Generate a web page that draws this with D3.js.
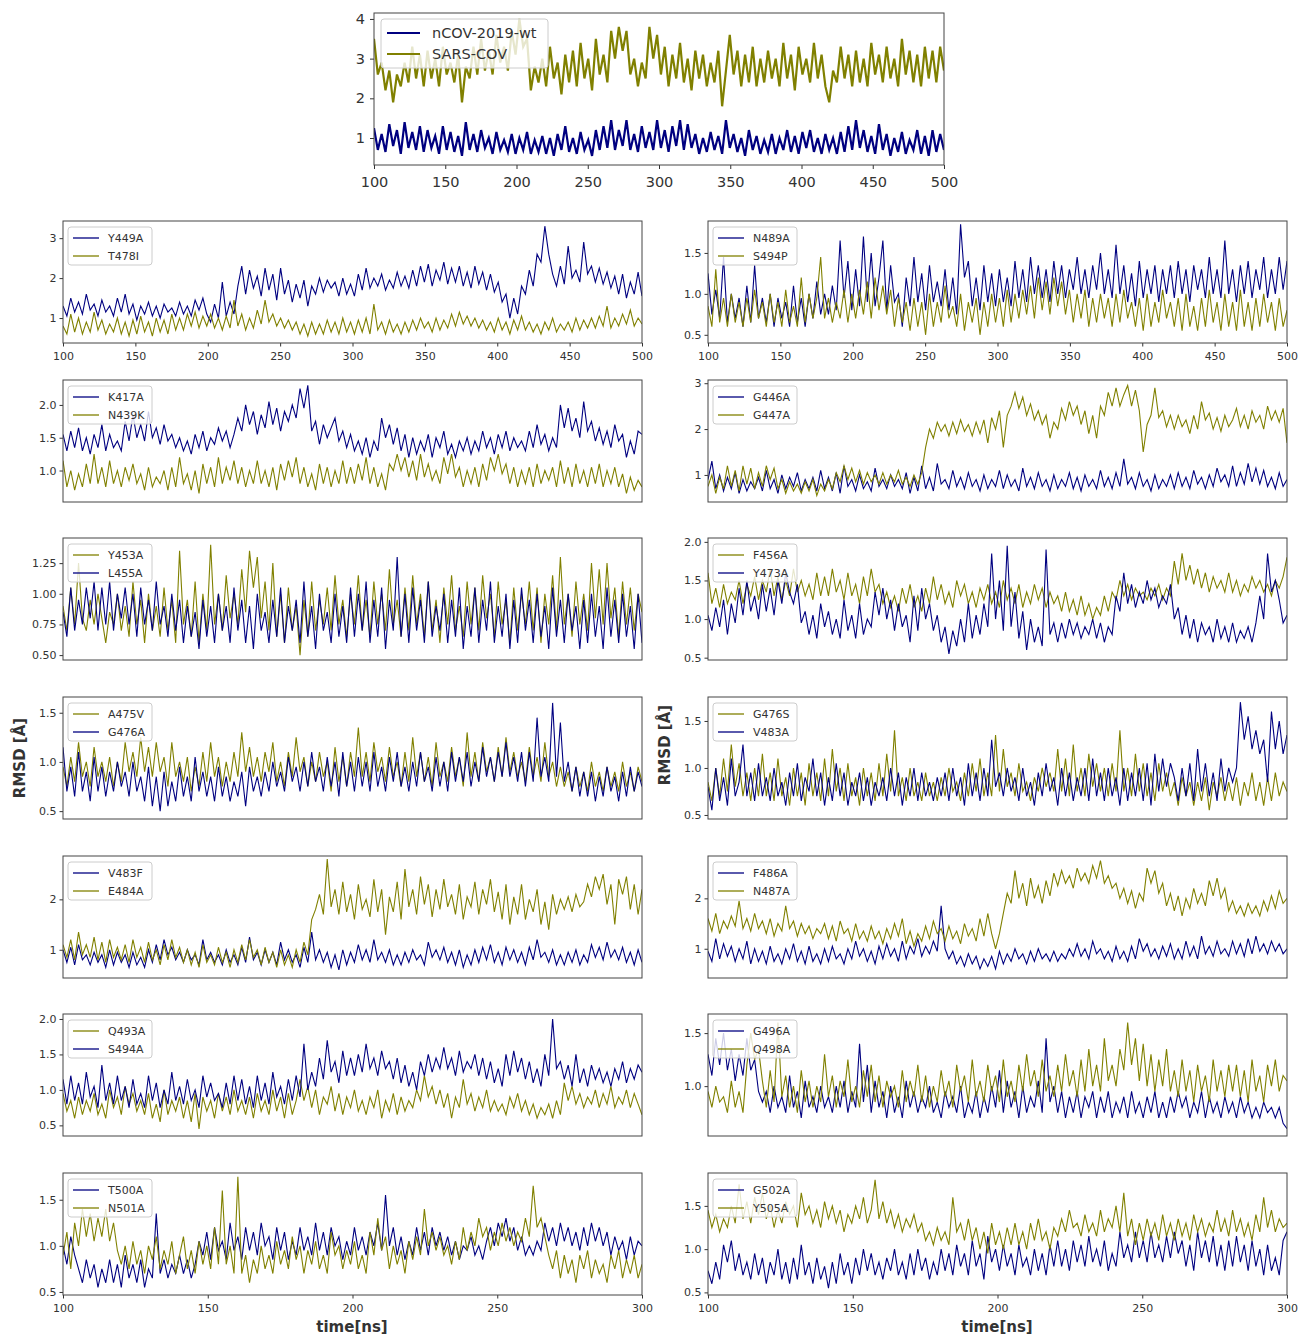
<!DOCTYPE html>
<html><head><meta charset="utf-8">
<script src="https://cdn.jsdelivr.net/npm/d3@7"></script>
<style>body{margin:0;background:#fff}svg{display:block}text{font-family:"DejaVu Sans",sans-serif;fill:#333}</style>
</head><body>
<svg id="c" width="1299" height="1337"></svg>
<script>
// ---------- data (RMSD in Å, evenly spaced over each panel's time range) ----------
const wt = [1.25,0.7,1.1,0.65,1.35,0.8,1.2,0.6,1.4,0.75,1.15,0.7,1.3,0.65,1.2,
 0.75,1.05,0.6,1.3,0.7,1.15,0.65,1.05,0.55,1.4,0.7,1.1,0.65,1.2,0.75,
 1.0,0.6,1.15,0.7,0.95,0.65,1.1,0.6,1.0,0.7,1.15,0.6,0.95,0.65,1.05,
 0.6,1.0,0.55,1.1,0.7,1.3,0.65,1.0,0.6,1.15,0.7,0.95,0.55,1.2,0.7,
 1.3,0.75,1.45,0.7,1.2,0.8,1.45,0.7,1.1,0.65,1.3,0.75,1.15,0.7,1.45,
 0.75,1.2,0.65,1.3,0.8,1.45,0.7,1.35,0.75,1.1,0.6,1.0,0.65,1.15,0.7,
 1.05,0.6,1.45,0.75,1.1,0.65,1.0,0.55,1.2,0.7,1.05,0.6,0.95,0.65,1.1,
 0.6,1.0,0.7,1.2,0.65,1.05,0.6,1.15,0.75,1.2,0.65,1.0,0.6,1.1,0.7,
 1.0,0.6,1.15,0.65,1.3,0.7,1.45,0.75,1.2,0.65,1.05,0.6,1.35,0.7,1.1,
 0.55,1.0,0.65,1.15,0.6,0.95,0.7,1.2,0.6,1.05,0.55,1.2,0.65,1.1,0.7];
const sars = [3.5,2.6,2.9,2.2,2.7,1.9,2.6,2.3,2.9,2.4,3.3,2.5,3.1,2.3,3.2,
 2.5,3.0,2.3,3.3,2.6,2.9,2.4,3.1,1.9,2.8,2.5,3.3,2.6,3.5,2.7,
 3.2,2.6,3.6,2.9,3.3,2.7,3.7,3.1,4.0,3.3,3.5,2.2,2.8,2.4,3.0,
 2.3,3.3,2.5,2.9,2.1,3.1,2.4,3.2,2.3,3.4,2.5,3.0,2.2,3.5,2.6,
 3.1,2.4,3.7,3.0,3.8,3.2,3.7,2.6,3.0,2.3,2.9,2.5,3.8,3.0,3.6,
 2.6,3.3,2.3,3.1,2.5,3.4,2.4,3.0,2.2,3.2,2.5,3.1,2.3,2.9,2.4,
 3.2,1.8,2.7,3.6,2.6,3.2,2.3,3.1,2.4,3.3,2.3,3.0,2.4,3.2,2.5,
 3.0,2.3,3.4,2.5,3.1,2.2,3.3,2.6,3.0,2.4,3.4,2.5,3.1,2.3,1.9,
 2.7,2.4,3.3,2.5,3.1,2.3,3.2,2.4,3.0,2.3,3.4,2.6,3.1,2.4,3.3,
 2.5,3.0,2.3,3.5,2.6,3.2,2.4,3.1,2.3,3.3,2.5,3.2,2.4,3.3,2.7];
const y449a = [1.3,1.05,1.5,1.15,1.4,1.1,1.6,1.2,1.35,1.05,1.45,1.15,1.3,1.05,1.5,
 1.15,1.6,1.1,1.35,0.95,1.3,1.1,1.4,1.05,1.3,1.0,1.35,1.15,1.25,1.05,
 1.4,1.1,1.3,1.05,1.45,1.2,1.5,1.1,0.9,1.35,1.0,1.9,1.05,1.4,1.1,
 1.8,2.3,1.6,2.2,1.75,2.05,1.55,2.25,1.7,2.1,1.45,2.25,1.6,1.95,1.4,
 1.85,1.5,1.95,1.3,1.8,1.6,2.0,1.65,1.95,1.75,1.9,1.55,2.0,1.6,1.85,
 1.55,2.1,1.7,2.25,1.75,2.0,1.8,2.1,1.7,1.95,1.75,2.15,1.8,2.05,1.75,
 2.2,1.8,2.3,1.9,2.35,1.8,2.2,1.95,2.4,1.85,2.25,1.9,2.3,1.8,2.15,
 1.75,2.3,1.85,2.15,1.7,2.1,1.65,1.9,1.4,1.6,1.0,1.5,1.1,1.8,1.6,
 2.2,1.8,2.6,2.4,3.3,2.6,2.1,1.8,2.3,1.85,2.8,2.0,2.2,1.9,2.9,
 2.1,2.3,1.9,2.25,1.85,2.15,1.75,2.05,1.6,2.1,1.5,1.9,1.6,2.15,1.55];
const t478i = [0.8,0.6,1.1,0.65,1.0,0.6,0.9,0.65,1.15,0.7,0.95,0.6,0.85,0.65,1.0,
 0.6,0.9,0.55,0.95,0.6,1.05,0.65,0.9,0.55,1.0,0.65,0.95,0.6,1.1,0.7,
 1.0,0.7,1.1,0.8,1.15,0.75,1.05,0.8,1.1,0.75,1.0,0.7,1.05,0.75,1.45,
 0.8,1.1,0.7,1.0,0.75,1.2,0.85,1.45,0.9,1.1,0.8,1.0,0.75,0.95,0.7,
 0.9,0.6,0.85,0.55,0.9,0.6,0.85,0.6,0.95,0.65,0.9,0.6,1.0,0.65,0.9,
 0.6,0.95,0.65,1.0,0.6,1.35,0.7,0.9,0.6,0.95,0.65,0.85,0.6,0.9,0.65,
 0.95,0.7,1.0,0.75,0.9,0.65,1.0,0.7,0.95,0.75,1.1,0.8,1.15,0.85,1.05,
 0.8,1.0,0.75,0.95,0.7,0.9,0.65,1.0,0.7,0.9,0.6,0.95,0.7,1.05,0.7,
 0.9,0.65,0.85,0.6,0.9,0.7,1.0,0.65,0.85,0.7,0.9,0.65,1.0,0.7,0.95,
 0.75,1.0,0.75,1.05,0.8,1.3,0.75,1.0,0.8,1.1,0.85,1.2,0.8,1.0,0.85];
const n489a = [1.25,0.75,1.05,0.7,1.45,0.65,1.0,0.7,0.95,0.6,1.1,0.65,1.35,0.7,0.95,
 0.65,1.0,0.6,0.95,0.7,0.9,0.6,1.1,0.65,0.95,0.6,1.0,0.7,1.15,0.75,
 1.0,0.75,1.1,0.8,1.65,0.95,1.4,0.8,1.3,0.85,1.7,0.9,1.5,0.85,1.2,
 1.65,0.8,1.35,0.9,1.0,0.6,1.2,0.85,1.45,0.9,1.25,0.8,1.35,0.9,1.15,
 0.85,1.3,0.8,1.2,0.75,1.85,1.2,1.4,0.85,1.2,0.8,1.35,0.9,1.25,0.85,
 1.3,0.9,1.2,0.85,1.4,0.95,1.3,0.9,1.45,1.0,1.35,0.95,1.3,0.9,1.4,
 1.0,1.35,0.95,1.3,1.05,1.45,1.0,1.3,0.95,1.35,1.05,1.5,1.0,1.3,0.95,
 1.6,1.0,1.35,0.9,1.25,0.85,1.4,0.95,1.3,1.0,1.35,0.9,1.3,1.0,1.35,
 0.95,1.4,1.0,1.3,0.9,1.35,1.05,1.3,0.95,1.45,1.0,1.3,0.95,1.65,1.0,
 1.3,0.9,1.35,1.0,1.4,0.95,1.3,1.05,1.45,0.95,1.3,1.0,1.45,1.05,1.4];
const s494p = [0.85,0.6,1.3,0.65,0.95,0.6,1.0,0.65,0.9,0.6,0.95,0.65,1.05,0.7,0.9,
 0.6,1.0,0.65,0.9,0.6,1.05,0.65,0.85,0.6,1.2,0.65,1.0,0.7,0.95,1.45,
 0.7,0.95,0.65,0.9,0.7,1.05,0.65,1.0,0.7,1.05,0.75,1.15,0.7,1.2,0.8,
 1.1,0.75,1.05,0.6,0.95,0.65,0.9,0.55,0.95,0.6,0.9,0.5,1.0,0.6,0.9,
 0.65,1.1,0.7,0.85,0.6,1.0,0.55,0.9,0.65,0.95,0.5,0.9,0.6,1.0,0.65,
 0.95,0.6,1.05,0.65,1.0,0.7,1.05,0.75,1.1,0.7,1.2,0.8,1.15,0.75,1.2,
 0.85,1.15,0.75,1.05,0.65,1.0,0.7,1.05,0.6,0.95,0.65,1.0,0.7,0.95,0.6,
 1.0,0.65,1.05,0.7,0.9,0.6,0.95,0.55,1.0,0.6,0.9,0.65,1.05,0.7,0.9,
 0.6,0.95,0.55,1.0,0.6,0.85,0.55,0.95,0.6,1.05,0.65,0.9,0.55,1.0,0.6,
 0.9,0.55,1.05,0.6,0.9,0.55,0.95,0.6,1.0,0.65,0.9,0.55,0.95,0.6,0.8];
const k417a = [1.55,1.3,1.6,1.35,1.65,1.3,1.5,1.25,1.55,1.35,1.7,1.3,1.55,1.35,1.45,
 1.3,1.75,1.45,1.85,1.5,1.7,1.45,1.9,1.5,1.65,1.4,1.7,1.45,1.55,1.35,
 1.5,1.3,1.45,1.25,1.55,1.35,1.6,1.3,1.5,1.4,1.65,1.45,1.6,1.35,1.55,
 1.8,1.6,2.0,1.7,1.9,1.55,1.85,1.65,2.05,1.7,1.95,1.6,1.9,1.75,2.0,
 1.8,2.25,1.95,2.3,1.6,1.75,1.4,1.7,1.5,1.65,1.8,1.45,1.6,1.35,1.55,
 1.3,1.45,1.25,1.5,1.2,1.45,1.3,1.8,1.5,1.7,1.4,1.65,1.3,1.55,1.2,
 1.5,1.25,1.45,1.3,1.55,1.2,1.5,1.35,1.6,1.25,1.4,1.2,1.45,1.3,1.5,
 1.25,1.45,1.3,1.6,1.35,1.5,1.25,1.55,1.35,1.6,1.3,1.5,1.35,1.45,1.3,
 1.6,1.35,1.7,1.4,1.55,1.3,1.5,1.35,2.0,1.65,1.95,1.6,1.8,1.5,2.05,
 1.6,1.75,1.45,1.65,1.4,1.6,1.35,1.7,1.45,1.55,1.2,1.45,1.25,1.6,1.55];
const n439k = [1.15,0.75,1.0,0.7,0.95,0.75,1.1,0.8,1.25,0.8,1.05,0.75,1.15,0.8,1.0,
 0.75,1.05,0.85,1.1,0.8,0.95,0.7,1.05,0.75,0.9,0.8,1.0,0.7,1.05,0.75,
 1.2,0.8,0.95,0.7,1.0,0.65,1.1,0.8,1.05,0.75,1.2,0.8,1.05,0.85,1.15,
 0.8,1.05,0.75,1.0,0.8,1.15,0.8,1.0,0.75,1.05,0.7,1.1,0.85,1.15,0.9,
 1.2,0.8,1.05,0.75,0.95,0.7,1.1,0.8,1.05,0.75,1.0,0.8,1.15,0.8,1.05,
 0.8,1.1,0.85,1.2,0.8,1.05,0.75,0.95,0.7,1.1,1.0,1.25,1.0,1.2,0.9,
 1.15,0.85,1.25,0.9,1.1,0.85,1.0,0.8,1.2,0.95,1.25,0.9,1.05,0.75,1.0,
 0.8,1.05,0.75,1.1,0.85,1.2,1.0,1.25,0.95,1.1,0.8,1.05,0.75,1.0,0.8,
 1.05,0.75,1.1,0.8,1.0,0.85,1.05,0.75,1.15,0.8,1.05,0.75,1.1,0.8,1.0,
 0.75,1.05,0.8,1.1,0.75,1.0,0.8,1.05,0.75,0.95,0.65,0.9,0.7,0.85,0.75];
const g446a = [0.9,1.3,0.7,1.0,0.65,0.95,0.7,1.05,0.6,0.9,0.65,0.85,0.7,0.95,0.65,
 1.1,0.7,0.9,0.6,1.0,0.7,0.95,0.75,1.05,0.65,0.9,0.7,0.95,0.65,1.1,
 0.7,0.95,0.65,1.05,0.6,1.2,0.75,0.9,0.65,1.0,0.7,0.85,0.65,1.15,0.75,
 0.9,0.7,1.0,0.75,0.9,0.7,1.05,0.6,0.95,0.65,1.2,0.7,0.95,0.65,1.25,
 0.8,0.9,0.7,1.1,0.75,0.95,0.7,1.05,0.75,0.9,0.65,1.0,0.7,0.9,0.75,
 1.1,0.7,1.0,0.75,0.9,0.65,1.15,0.75,0.95,0.7,1.05,0.75,0.9,0.65,1.0,
 0.7,0.9,0.75,1.05,0.7,0.95,0.65,1.0,0.75,0.9,0.7,1.1,0.75,0.95,0.7,
 1.05,0.75,1.35,0.8,0.95,0.7,1.05,0.75,0.9,0.65,1.0,0.7,0.9,0.75,1.0,
 0.7,1.05,0.75,0.95,0.7,1.1,0.8,0.95,0.7,1.0,0.75,1.15,0.85,1.0,0.75,
 1.2,0.75,1.05,0.8,1.25,0.85,1.15,0.8,1.1,0.75,0.95,0.7,1.05,0.75,0.9];
const g447a = [0.75,1.0,0.6,0.95,0.7,1.2,0.75,1.1,0.65,1.2,0.8,1.15,0.7,1.05,0.75,
 1.2,0.9,1.15,0.7,0.9,0.6,0.85,0.65,0.8,0.6,0.85,0.65,0.9,0.55,0.8,
 0.65,0.9,0.7,1.05,0.85,1.2,0.9,1.15,0.85,1.1,0.8,1.05,0.85,1.0,0.8,
 1.05,0.8,1.0,0.85,1.1,0.8,0.95,0.75,1.0,0.8,1.05,1.6,2.0,1.8,2.15,
 1.95,2.1,1.85,2.15,1.9,2.2,1.95,2.1,1.85,2.15,1.9,2.2,1.7,2.25,2.0,
 2.4,1.6,2.3,2.5,2.8,2.45,2.7,2.3,2.55,2.2,2.4,2.1,2.3,1.8,2.15,
 2.0,2.45,2.2,2.6,2.3,2.5,2.1,2.4,1.9,2.3,1.8,2.5,2.3,2.8,2.5,
 2.9,2.5,2.75,2.95,2.5,2.85,2.4,1.5,2.1,2.3,2.9,2.25,2.4,2.05,2.3,
 2.0,2.3,2.05,2.2,1.9,2.3,2.0,2.6,2.2,2.35,2.0,2.25,1.95,2.3,2.05,
 2.2,2.45,2.05,2.3,2.0,2.4,2.15,2.3,2.0,2.5,2.2,2.4,2.15,2.45,1.7];
const y453a = [0.9,0.7,1.05,0.75,1.25,0.8,0.7,0.95,0.75,1.0,0.8,0.6,0.85,0.75,1.0,
 0.7,0.9,0.65,1.1,0.75,0.95,0.6,1.0,0.7,0.9,0.65,1.05,0.7,0.95,0.6,
 1.35,0.75,0.95,0.65,1.1,0.6,1.0,0.7,1.4,0.75,1.0,0.7,1.15,0.8,1.0,
 0.75,1.2,0.85,1.35,1.05,1.3,0.8,1.1,0.7,1.25,0.65,1.0,0.6,1.05,0.7,
 0.9,0.5,0.95,0.65,1.1,0.7,0.95,0.75,1.05,0.7,1.15,0.75,0.95,0.65,1.0,
 0.75,1.15,0.7,0.95,0.65,1.1,0.75,1.0,0.7,1.2,0.75,0.95,0.65,1.05,0.7,
 1.15,0.75,1.0,0.65,1.1,0.7,0.95,0.6,1.05,0.75,1.15,0.7,0.9,0.65,1.1,
 0.75,1.05,0.7,1.15,0.8,1.0,0.65,1.1,0.75,0.95,0.6,1.05,0.7,1.0,0.75,
 1.1,0.7,1.05,0.6,1.0,0.75,1.15,0.7,1.3,0.75,1.0,0.65,1.1,0.75,1.0,
 0.7,1.25,0.8,1.2,0.75,1.25,0.8,1.05,0.65,1.1,0.75,1.05,0.7,1.0,0.85];
const l455a = [0.85,0.65,1.05,0.7,0.95,0.75,1.05,0.8,1.1,0.7,1.05,0.75,1.1,0.7,1.0,
 0.8,1.05,0.75,1.0,0.65,1.05,0.75,0.95,0.7,1.1,0.75,0.9,0.65,1.0,0.7,
 0.95,0.6,0.9,0.65,0.85,0.55,0.95,0.65,0.9,0.6,1.0,0.7,0.9,0.6,1.05,
 0.7,0.95,0.6,0.9,0.55,1.0,0.7,0.85,0.6,0.95,0.65,1.05,0.6,0.9,0.7,
 0.95,0.6,1.1,0.65,0.9,0.55,1.0,0.7,0.85,0.6,1.0,0.65,0.9,0.6,1.05,
 0.65,1.0,0.7,1.1,0.6,0.95,0.65,1.05,0.55,0.95,0.7,1.3,0.65,1.0,0.6,
 1.05,0.7,0.95,0.6,1.1,0.65,0.9,0.7,1.0,0.6,0.95,0.65,1.05,0.55,0.9,
 0.65,1.05,0.6,0.95,0.7,1.1,0.6,0.9,0.65,1.0,0.55,0.95,0.6,1.05,0.7,
 0.95,0.6,1.0,0.65,0.9,0.55,1.05,0.65,0.95,0.6,1.0,0.7,0.9,0.55,0.95,
 0.6,1.0,0.65,0.9,0.55,1.05,0.65,0.95,0.6,1.0,0.65,0.9,0.55,1.0,0.6];
const f456a = [1.6,1.2,1.4,1.15,1.45,1.2,1.35,1.25,1.5,1.2,1.45,1.3,1.55,1.25,1.5,
 1.35,1.65,1.3,1.55,1.25,1.5,1.3,1.65,1.35,1.5,1.3,1.45,1.25,1.6,1.3,
 1.55,1.3,1.65,1.35,1.5,1.25,1.6,1.3,1.45,1.2,1.55,1.3,1.65,1.35,1.45,
 1.2,1.35,1.15,1.3,1.1,1.4,1.2,1.45,1.15,1.3,1.1,1.4,1.2,1.55,1.25,
 1.45,1.2,1.35,1.15,1.5,1.3,1.45,1.2,1.35,1.15,1.4,1.25,1.45,1.2,1.35,
 1.15,1.5,1.25,1.4,1.2,1.45,1.15,1.35,1.2,1.45,1.25,1.4,1.15,1.35,1.2,
 1.3,1.1,1.35,1.1,1.25,1.05,1.3,1.05,1.2,1.0,1.15,1.05,1.3,1.1,1.35,
 1.25,1.5,1.3,1.45,1.25,1.4,1.3,1.35,1.25,1.4,1.3,1.45,1.25,1.4,1.3,
 1.75,1.45,1.85,1.5,1.7,1.45,1.65,1.4,1.6,1.35,1.55,1.4,1.5,1.35,1.6,
 1.35,1.5,1.3,1.45,1.35,1.55,1.4,1.5,1.35,1.45,1.3,1.5,1.4,1.55,1.8];
const y473a = [1.05,0.85,1.15,0.9,1.25,0.8,1.2,0.95,1.4,1.05,1.5,1.1,1.3,1.0,1.45,
 1.1,1.4,1.05,1.5,1.2,1.6,1.35,1.2,1.45,0.95,1.1,0.8,1.05,0.75,1.2,
 0.9,1.1,0.8,1.0,0.75,1.25,0.85,1.05,0.75,1.2,0.8,1.0,0.9,1.35,1.05,
 1.4,1.0,1.25,0.85,1.2,0.9,1.05,0.7,1.3,0.85,1.4,1.0,1.2,0.85,1.05,
 0.7,0.9,0.55,0.85,0.65,1.0,0.7,1.2,0.75,1.05,0.8,1.2,0.9,1.85,1.0,
 1.5,0.85,1.95,0.9,1.35,0.75,1.1,0.6,1.0,0.7,0.9,0.65,1.9,0.8,0.95,
 0.7,0.95,0.75,1.0,0.8,0.95,0.75,0.9,0.8,1.0,0.75,0.95,0.7,0.9,0.8,
 1.3,1.1,1.6,1.2,1.45,1.15,1.35,1.2,1.5,1.25,1.4,1.15,1.3,1.2,1.45,
 1.0,1.15,0.8,1.05,0.75,1.0,0.7,0.95,0.8,0.9,0.7,1.0,0.75,0.9,0.7,
 0.95,0.7,0.85,0.75,0.9,0.7,0.95,1.3,1.0,1.85,1.35,1.5,1.25,0.95,1.05];
const a475v = [0.95,0.75,1.05,0.8,1.2,0.85,1.0,0.75,1.15,0.85,1.0,0.8,1.05,0.75,1.0,
 0.8,1.2,0.9,1.1,0.85,1.25,0.9,1.15,0.85,1.2,0.9,1.05,0.75,1.2,0.85,
 1.0,0.8,1.05,0.7,0.95,0.75,1.1,0.8,1.2,0.85,1.05,0.75,1.0,0.8,1.1,
 0.85,1.3,0.9,1.15,0.85,1.05,0.8,1.1,0.9,1.2,0.8,1.0,0.75,1.1,0.85,
 1.25,0.9,1.05,0.75,1.0,0.8,1.1,0.85,1.0,0.7,1.15,0.8,1.05,0.75,1.1,
 0.85,1.35,0.85,1.1,0.8,1.2,0.9,1.05,0.8,1.15,0.85,1.0,0.75,1.1,0.8,
 1.25,0.85,1.1,0.8,1.05,0.75,1.2,0.85,1.0,0.8,1.15,0.85,1.05,0.75,1.3,
 0.85,1.1,0.8,1.2,0.9,1.05,0.8,1.15,0.85,1.25,0.9,1.1,0.85,1.0,0.8,
 1.15,0.85,1.05,0.8,1.2,0.85,1.0,0.75,0.95,0.75,0.9,0.7,0.95,0.75,0.9,
 0.7,1.0,0.75,0.9,0.7,0.95,0.75,0.9,0.7,1.0,0.75,0.9,0.7,0.95,0.8];
const g476a = [1.15,0.7,0.95,0.65,1.1,0.7,0.9,0.6,1.05,0.7,0.95,0.65,0.9,0.7,1.0,
 0.75,0.9,0.65,1.0,0.7,0.85,0.6,0.95,0.55,0.85,0.5,0.9,0.55,0.8,0.6,
 0.95,0.65,0.85,0.6,1.05,0.7,0.9,0.65,0.85,0.6,0.95,0.65,0.85,0.6,0.8,
 0.65,0.9,0.55,0.95,0.7,0.85,0.65,0.9,0.7,1.0,0.75,0.9,0.7,1.05,0.8,
 0.95,0.7,1.0,0.75,1.1,0.8,0.95,0.7,1.05,0.75,1.0,0.65,1.1,0.75,1.0,
 0.7,1.05,0.75,1.0,0.7,1.1,0.75,0.95,0.7,1.05,0.8,1.1,0.75,0.95,0.7,
 1.0,0.75,1.1,0.8,0.95,0.7,1.05,0.75,1.0,0.7,1.1,0.8,1.05,0.8,1.1,
 0.75,1.0,0.8,1.15,0.85,1.05,0.8,1.1,0.85,1.2,0.85,1.05,0.8,1.1,0.75,
 1.1,0.8,1.45,0.85,1.05,0.8,1.6,0.85,1.4,0.8,1.0,0.7,0.95,0.65,0.9,
 0.65,0.9,0.6,0.85,0.65,0.95,0.7,0.85,0.6,0.9,0.65,0.95,0.7,0.9,0.75];
const g476s = [0.85,0.65,1.0,0.7,1.1,0.75,1.25,0.8,1.05,0.7,0.95,0.65,1.0,0.7,1.15,
 0.7,0.95,0.65,1.1,0.7,0.9,0.6,1.0,0.7,0.95,0.6,1.05,0.7,0.95,0.65,
 1.1,0.7,1.2,0.75,1.0,0.65,1.05,0.7,0.9,0.6,1.0,0.7,0.95,0.65,1.05,
 0.7,1.15,0.75,1.4,0.7,0.9,0.65,1.0,0.7,0.85,0.65,0.95,0.7,0.85,0.65,
 0.9,0.7,1.0,0.75,0.85,0.65,0.95,0.7,1.05,0.75,1.1,0.7,0.95,0.7,1.35,
 0.75,1.2,0.8,0.95,0.7,1.05,0.75,0.85,0.65,0.9,0.75,1.0,0.8,0.95,0.75,
 1.2,0.75,1.1,0.7,1.25,0.75,1.0,0.7,1.15,0.8,1.05,0.75,1.0,0.7,1.05,
 0.75,1.4,0.75,1.0,0.7,1.15,0.75,1.05,0.7,0.95,0.65,1.05,0.75,0.95,0.7,
 0.85,0.6,0.9,0.7,0.85,0.6,0.85,0.65,0.9,0.55,0.85,0.7,0.9,0.65,0.85,
 0.65,0.9,0.6,0.85,0.7,0.95,0.65,0.85,0.6,0.9,0.65,0.95,0.7,0.85,0.75];
const v483a = [0.8,0.55,1.0,0.65,0.9,0.6,1.1,0.7,0.85,1.25,0.7,0.95,0.65,1.05,0.7,
 0.9,0.65,1.0,0.7,0.85,0.6,0.95,0.7,1.05,0.65,0.9,0.75,1.1,0.7,0.95,
 0.6,0.9,0.65,1.05,0.7,0.95,0.6,0.85,0.7,0.95,0.65,0.9,0.6,0.85,0.7,
 0.9,0.65,1.0,0.7,0.95,0.6,0.9,0.7,1.0,0.65,0.95,0.7,0.85,0.65,0.9,
 0.7,0.95,0.65,1.0,0.7,0.9,0.6,1.05,0.7,0.95,0.65,1.0,0.7,1.3,0.8,
 0.95,0.7,1.0,0.75,0.9,0.65,1.0,0.7,0.85,0.6,0.95,0.7,1.05,0.75,0.9,
 0.6,1.0,0.7,0.95,0.65,0.9,0.7,1.0,0.65,1.1,0.7,0.95,0.65,1.0,0.7,
 0.9,0.6,1.0,0.65,0.95,0.7,1.0,0.65,1.05,0.6,1.15,0.75,1.1,0.8,1.05,
 0.9,0.65,1.0,0.7,1.05,0.65,1.2,0.75,1.05,0.7,0.95,0.65,1.1,0.75,1.0,
 0.85,1.0,1.7,1.3,1.55,1.2,1.4,1.15,1.3,0.85,1.6,1.2,1.5,1.15,1.35];
const v483f = [1.0,0.75,1.05,0.7,1.1,0.8,0.9,0.7,0.95,0.75,0.9,0.65,1.0,0.7,0.95,
 0.75,0.9,0.65,0.95,0.7,0.85,0.65,1.0,0.75,1.1,0.8,1.2,0.9,1.05,0.8,
 0.95,0.75,1.0,0.8,0.9,0.7,1.2,0.8,0.95,0.75,0.9,0.7,1.0,0.75,0.9,
 0.7,1.05,0.75,1.25,0.8,0.95,0.7,1.0,0.75,0.95,0.7,1.15,0.8,1.0,0.75,
 0.9,0.65,1.05,0.75,1.35,0.8,1.0,0.75,0.95,0.65,0.9,0.6,1.0,0.7,0.95,
 0.75,1.1,0.8,1.0,0.75,1.2,0.8,0.95,0.75,1.0,0.7,0.9,0.7,0.95,0.75,
 1.0,0.8,0.9,0.7,1.15,0.85,1.0,0.8,1.05,0.75,0.95,0.7,1.0,0.65,0.9,
 0.7,1.0,0.75,1.05,0.8,1.1,0.75,0.95,0.7,1.05,0.8,1.0,0.75,0.95,0.7,
 1.05,0.8,1.2,0.85,0.95,0.75,1.0,0.7,0.9,0.7,0.95,0.75,1.0,0.7,0.9,
 0.75,1.1,0.85,1.05,0.8,1.15,0.85,1.0,0.8,1.05,0.75,0.95,0.7,1.0,0.75];
const e484a = [1.1,0.85,1.2,0.8,1.35,0.9,1.1,0.85,1.25,0.8,1.15,0.75,1.2,0.85,1.05,
 0.8,1.1,0.75,1.2,0.85,1.05,0.75,1.15,0.8,1.0,0.7,1.1,0.8,1.2,0.85,
 1.05,0.75,1.0,0.7,0.95,0.65,1.1,0.75,0.9,0.7,1.05,0.75,0.95,0.65,1.0,
 0.75,1.1,0.8,1.2,0.85,1.0,0.7,1.05,0.75,0.95,0.65,1.0,0.7,0.9,0.65,
 1.0,0.75,1.15,0.9,1.6,1.8,2.1,1.7,2.8,1.85,2.2,1.7,2.35,1.75,2.1,
 1.6,2.3,1.8,2.0,1.65,2.4,1.75,2.2,1.3,2.05,1.75,2.35,1.6,2.6,1.85,
 2.2,1.7,2.45,1.9,2.3,1.65,2.2,1.8,2.4,1.85,2.1,1.7,2.3,1.6,2.05,
 1.85,2.35,1.7,2.2,1.9,2.4,1.75,2.15,1.6,2.3,1.5,2.05,1.7,2.3,1.6,
 2.0,1.75,2.2,1.5,1.95,1.4,2.1,1.7,2.0,1.8,2.05,1.75,2.1,1.85,1.95,
 2.3,2.05,2.45,2.2,2.5,1.9,2.3,1.5,2.4,2.1,2.45,1.8,2.3,1.7,2.2];
const f486a = [0.95,0.75,1.2,0.8,1.1,0.85,1.05,0.75,1.0,0.8,1.15,0.7,1.0,0.75,0.95,
 0.7,1.05,0.75,0.9,0.7,1.0,0.8,1.1,0.75,0.95,0.7,1.05,0.75,0.9,0.7,
 1.0,0.75,1.05,0.8,0.9,0.7,1.0,0.8,1.15,0.85,1.0,0.75,0.95,0.7,1.05,
 0.8,1.1,0.85,1.0,0.75,1.15,0.8,1.05,0.9,1.2,0.85,1.05,0.9,1.15,0.95,
 1.85,1.0,0.8,0.95,0.7,0.85,0.65,0.9,0.7,0.85,0.6,0.8,0.65,0.85,0.6,
 0.95,0.7,0.9,0.75,1.0,0.8,0.9,0.7,0.95,0.75,1.0,0.8,0.9,0.75,0.95,
 0.75,0.9,0.8,1.0,0.85,1.1,0.85,1.0,0.8,1.15,0.9,1.0,0.8,0.95,0.75,
 1.05,0.8,0.95,0.75,1.05,0.8,1.2,0.95,1.1,0.85,1.0,0.8,1.05,0.85,1.1,
 0.8,1.0,0.8,1.15,0.85,1.05,0.8,1.25,0.9,1.05,0.85,1.15,0.9,1.0,0.85,
 1.15,0.9,1.1,0.85,1.2,0.9,1.25,0.95,1.1,0.9,1.15,0.95,1.1,0.9,1.0];
const n487a = [1.6,1.35,1.7,1.3,1.55,1.4,1.65,1.45,1.95,1.4,1.6,1.35,1.7,1.4,1.55,
 1.3,1.6,1.25,1.5,1.35,1.85,1.4,1.55,1.25,1.5,1.3,1.45,1.2,1.4,1.3,
 1.5,1.2,1.45,1.15,1.55,1.3,1.4,1.15,1.5,1.2,1.35,1.15,1.45,1.2,1.35,
 1.1,1.4,1.2,1.5,1.25,1.6,1.1,1.35,1.05,1.3,1.15,1.45,1.2,1.55,1.3,
 1.4,1.15,1.45,1.2,1.35,1.1,1.5,1.25,1.4,1.15,1.6,1.25,1.7,1.3,1.0,
 1.3,1.7,2.1,1.9,2.55,2.0,2.3,1.85,2.4,2.0,2.25,1.9,2.35,2.05,2.5,
 2.25,2.55,2.3,2.45,2.2,2.6,2.35,2.5,2.3,2.65,2.4,2.75,2.3,2.45,2.2,
 2.3,2.0,2.2,1.9,2.15,1.8,2.1,1.95,2.6,2.3,2.55,2.1,2.3,1.85,2.1,
 1.75,2.05,1.65,2.0,1.8,2.2,1.9,2.1,1.85,2.35,2.05,2.4,2.0,2.2,1.75,
 1.95,1.7,1.85,1.65,1.9,1.7,1.85,1.65,1.95,1.75,2.05,1.8,2.15,1.9,2.0];
const q493a = [0.95,0.7,0.85,0.6,0.9,0.65,0.85,0.7,0.95,0.65,0.8,0.6,1.0,0.75,0.9,
 0.65,1.05,0.8,0.95,0.7,0.85,0.65,0.95,0.6,0.8,0.55,1.0,0.65,0.85,0.7,
 0.9,0.6,0.85,0.55,0.95,0.45,0.9,0.7,0.85,0.6,0.95,0.7,0.9,0.65,1.0,
 0.7,0.85,0.65,0.9,0.6,0.95,0.7,0.85,0.65,1.0,0.7,0.9,0.6,0.95,0.65,
 0.85,1.15,0.85,1.05,0.75,1.0,0.65,0.9,0.8,1.05,0.7,0.95,0.65,0.9,0.75,
 1.0,0.7,0.85,0.65,0.9,0.75,1.0,0.6,0.85,0.7,0.95,0.65,0.9,0.7,0.85,
 0.75,1.0,0.85,1.2,0.9,1.05,0.8,1.0,0.75,0.95,0.6,0.9,0.75,1.15,0.8,
 0.95,0.7,0.9,0.75,1.0,0.7,0.85,0.7,0.8,0.65,0.9,0.75,0.95,0.7,0.85,
 0.65,0.8,0.6,0.75,0.65,0.8,0.6,0.85,0.65,1.1,0.85,1.05,0.8,0.95,0.75,
 0.9,0.8,1.0,0.75,0.95,0.8,1.05,0.75,0.9,0.8,1.0,0.75,0.95,0.8,0.65];
const s494a = [1.15,0.8,1.2,0.85,1.1,0.8,1.25,0.9,1.05,0.75,1.35,0.85,1.1,0.8,1.2,
 0.85,1.05,0.75,1.15,0.8,0.95,0.75,1.2,0.85,1.1,0.75,1.0,0.8,1.25,0.85,
 1.05,0.8,1.15,0.85,1.0,0.75,1.2,0.9,1.1,0.85,0.95,0.75,1.1,0.8,1.2,
 0.85,1.15,0.8,1.05,0.75,1.2,0.85,1.1,0.8,1.25,0.9,1.05,0.8,1.15,0.85,
 1.2,0.9,1.65,1.0,1.25,1.05,1.45,1.15,1.7,1.25,1.4,1.1,1.55,1.2,1.45,
 1.2,1.5,1.25,1.65,1.3,1.45,1.2,1.55,1.3,1.4,1.15,1.45,1.1,1.35,1.05,
 1.25,1.0,1.4,1.2,1.5,1.25,1.45,1.3,1.6,1.3,1.45,1.2,1.55,1.25,1.4,
 1.3,1.5,1.2,1.45,1.15,1.4,1.1,1.3,1.05,1.5,1.2,1.55,1.25,1.45,1.15,
 1.4,1.1,1.3,1.05,1.5,1.2,2.0,1.3,1.4,1.15,1.35,1.05,1.5,1.1,1.3,
 1.05,1.35,1.15,1.3,1.1,1.25,1.05,1.3,1.15,1.4,1.1,1.3,1.15,1.35,1.25];
const g496a = [1.3,1.1,1.45,1.2,1.5,1.15,1.35,1.05,1.3,1.1,1.45,1.15,1.25,0.95,0.85,
 0.95,0.75,1.0,0.8,0.9,0.75,1.1,0.8,0.95,0.7,1.05,0.8,0.9,0.75,1.0,
 0.8,0.9,0.75,1.0,0.8,1.05,0.75,0.95,0.8,1.4,0.85,1.2,0.75,1.05,0.8,
 0.95,0.7,1.0,0.75,0.9,0.7,1.05,0.8,0.95,0.75,0.9,0.8,1.0,0.75,0.85,
 0.7,0.95,0.8,0.9,0.75,1.0,0.7,0.85,0.75,0.95,0.7,0.9,0.75,1.0,0.8,
 1.15,0.75,1.05,0.8,0.95,0.7,1.0,0.75,0.9,0.8,1.05,0.75,1.45,0.85,1.0,
 0.75,0.95,0.7,0.9,0.75,0.95,0.7,0.9,0.8,0.95,0.7,0.9,0.75,0.95,0.7,
 0.85,0.75,0.9,0.7,0.95,0.75,0.85,0.7,0.9,0.75,0.95,0.7,0.85,0.7,0.9,
 0.75,0.95,0.8,0.9,0.7,0.85,0.75,0.95,0.7,0.9,0.75,0.85,0.7,0.9,0.75,
 0.85,0.7,0.9,0.75,0.85,0.7,0.8,0.7,0.85,0.75,0.8,0.7,0.8,0.65,0.6];
const q498a = [0.95,0.8,1.0,0.85,0.9,0.75,1.05,0.8,0.95,0.75,1.2,1.5,1.25,1.35,1.05,
 0.8,1.15,0.85,1.6,0.9,1.1,0.8,1.0,0.75,1.15,0.85,1.05,0.8,1.0,0.85,
 1.3,0.9,1.1,0.8,1.05,0.9,1.25,0.85,1.0,0.8,1.15,0.9,1.2,0.85,1.1,
 0.8,1.05,0.9,1.0,0.8,1.15,0.85,1.05,0.9,1.2,0.85,1.1,0.8,1.0,0.85,
 1.15,0.9,1.05,0.8,1.2,0.95,1.1,0.85,1.25,0.9,1.05,0.85,1.2,0.95,1.1,
 0.85,1.25,0.9,1.05,0.85,1.2,0.95,1.3,1.0,1.15,0.9,1.25,0.95,1.1,0.9,
 1.2,0.95,1.3,1.0,1.15,0.9,1.25,0.95,1.35,1.0,1.2,0.95,1.45,1.05,1.2,
 1.0,1.35,1.15,1.6,1.2,1.45,1.05,1.4,1.0,1.3,0.95,1.25,1.0,1.35,0.95,
 1.15,0.9,1.25,0.95,1.15,0.85,1.2,0.95,1.1,0.85,1.25,0.95,1.15,0.9,1.2,
 0.95,1.2,0.9,1.15,0.85,1.25,0.95,1.1,0.85,1.2,1.0,1.25,0.95,1.1,1.05];
const t500a = [1.0,0.8,1.1,0.9,0.75,0.6,0.85,0.65,0.8,0.55,0.75,0.6,0.85,0.6,0.8,
 0.55,0.9,0.65,0.8,0.6,0.85,0.55,0.75,0.65,1.35,0.7,0.85,0.65,0.8,0.7,
 0.9,0.7,0.85,0.65,0.8,1.05,0.9,1.15,0.85,1.2,0.95,1.05,0.85,1.25,0.95,
 1.1,0.85,1.2,0.95,1.15,0.9,1.25,1.0,1.1,0.85,1.2,0.95,1.15,0.85,1.05,
 0.9,1.2,0.95,1.1,0.9,1.25,0.95,1.15,0.9,1.2,1.0,1.1,0.85,1.05,0.9,
 1.2,0.95,1.1,0.9,1.15,1.0,1.25,0.95,1.55,1.0,1.2,0.9,1.1,0.85,1.05,
 0.9,1.2,0.95,1.15,0.9,1.2,1.0,1.15,0.95,1.1,0.9,1.05,0.85,1.0,0.95,
 1.1,0.9,1.0,0.85,1.05,1.2,1.0,1.25,1.1,1.3,1.05,1.2,0.95,1.1,0.9,
 1.0,0.9,1.05,0.95,1.25,1.05,1.2,1.0,1.25,1.05,1.2,1.0,1.15,0.95,1.2,
 1.0,1.25,1.05,1.2,1.0,1.15,0.9,1.1,0.95,1.05,0.85,1.1,0.9,1.05,1.0];
const n501a = [0.9,1.15,0.75,1.25,1.0,1.4,1.1,1.35,1.05,1.3,1.1,1.4,1.05,1.25,0.95,
 0.8,1.0,0.75,1.05,0.8,0.95,0.7,1.0,0.85,1.1,0.75,0.95,0.8,1.05,0.7,
 0.9,1.1,0.75,0.95,0.7,1.05,0.8,1.0,0.75,1.2,0.8,1.6,0.8,1.0,0.7,
 1.75,0.7,0.9,0.6,0.85,0.7,1.0,0.75,0.9,0.7,1.05,0.8,0.95,0.75,1.1,
 0.85,1.0,0.7,0.95,0.8,1.05,0.75,0.9,0.7,1.15,0.9,1.0,0.75,0.95,0.8,
 1.05,0.75,0.9,0.7,1.15,0.9,1.3,0.95,1.1,0.75,1.0,0.8,0.95,0.7,1.05,
 0.85,1.1,0.9,1.4,1.0,1.15,0.95,1.1,0.9,1.0,0.8,1.05,0.85,1.2,0.95,
 1.15,1.0,1.3,1.1,1.2,0.95,1.15,1.0,1.25,1.05,1.2,1.0,1.15,1.05,1.3,
 1.1,1.65,1.2,1.3,1.1,0.9,0.75,0.95,0.65,0.9,0.7,0.85,0.6,0.9,0.75,
 0.95,0.65,0.85,0.7,0.8,0.6,0.9,0.75,0.95,0.65,0.85,0.7,0.9,0.65,0.8];
const g502a = [0.75,0.6,0.85,0.65,1.05,0.85,1.1,0.75,0.95,0.7,0.85,0.65,0.95,0.7,0.9,
 0.6,0.85,0.7,1.0,0.65,0.85,0.6,0.9,0.65,1.05,0.7,0.85,0.6,0.9,0.65,
 0.8,0.55,0.85,0.6,0.95,0.7,0.85,0.6,0.9,0.7,1.0,0.75,0.95,0.7,0.85,
 0.65,0.9,0.75,1.0,0.7,0.85,0.65,0.95,0.7,1.0,0.75,0.9,0.65,0.85,0.7,
 1.0,0.75,0.95,0.7,1.05,0.8,0.95,0.7,1.1,0.8,0.95,0.65,1.15,0.85,1.0,
 0.75,1.05,0.8,0.95,0.7,1.05,0.8,0.9,0.7,1.0,0.75,0.95,0.7,1.05,0.8,
 1.1,0.8,1.0,0.75,1.1,0.85,1.05,0.8,1.15,0.85,1.0,0.8,1.1,0.75,0.95,
 0.8,1.2,0.9,1.05,0.85,1.2,0.9,1.1,0.85,1.2,0.9,1.05,0.85,1.15,0.9,
 1.2,0.95,1.1,0.8,1.05,0.75,1.2,0.9,1.1,0.85,1.15,0.8,1.05,0.75,1.1,
 0.8,1.15,0.85,1.05,0.75,1.1,0.8,1.0,0.7,1.05,0.75,0.9,0.7,1.1,1.2];
const y505a = [1.45,1.25,1.4,1.2,1.35,1.25,1.5,1.3,1.75,1.35,1.55,1.3,1.6,1.4,1.65,
 1.35,1.5,1.25,1.45,1.3,1.55,1.4,1.5,1.25,1.65,1.4,1.5,1.3,1.45,1.25,
 1.55,1.35,1.5,1.3,1.45,1.2,1.4,1.3,1.5,1.35,1.6,1.3,1.45,1.8,1.35,
 1.55,1.3,1.45,1.25,1.4,1.2,1.35,1.25,1.4,1.2,1.3,1.1,1.2,1.05,1.25,
 1.1,1.2,1.05,1.6,1.2,1.3,1.1,1.35,1.1,1.25,1.0,1.2,0.95,1.3,1.05,
 1.2,1.0,1.25,1.05,1.3,1.05,1.2,1.0,1.3,1.1,1.35,1.1,1.2,1.0,1.25,
 1.15,1.35,1.2,1.45,1.25,1.3,1.15,1.4,1.2,1.3,1.15,1.45,1.2,1.35,1.25,
 1.5,1.2,1.65,1.15,1.35,1.05,1.3,1.1,1.35,1.15,1.3,1.1,1.4,1.15,1.3,
 1.1,1.35,1.15,1.3,1.1,1.4,1.2,1.35,1.15,1.3,1.2,1.45,1.2,1.35,1.15,
 1.45,1.2,1.35,1.15,1.3,1.1,1.4,1.2,1.6,1.25,1.45,1.2,1.35,1.25,1.3];

const ticks400 = [100,150,200,250,300,350,400,450,500];
const ticks200 = [100,150,200,250,300];

// ---------- layout ----------
const NAVY = "#000080", OLIVE = "#808000";
const svg = d3.select("#c");
const colL = 63, colR = 708, pw = 579, ph = 122;
const rowTops = [221, 380, 538, 697, 856, 1014, 1173];

const panels = [
  {x:374, y:13, w:570, h:152, dom:[0.32,4.15], yt:[1,2,3,4], fmt:d3.format("d"), xr:[100,500], xt:ticks400, big:true,
   s:[{n:"nCOV-2019-wt", v:wt, c:NAVY},{n:"SARS-COV", v:sars, c:OLIVE}]},
  {x:colL, y:rowTops[0], dom:[0.375,3.43], yt:[1,2,3], fmt:d3.format("d"), xr:[100,500], xt:ticks400,
   s:[{n:"Y449A", v:y449a, c:NAVY},{n:"T478I", v:t478i, c:OLIVE}]},
  {x:colR, y:rowTops[0], dom:[0.40,1.89], yt:[0.5,1.0,1.5], fmt:d3.format(".1f"), xr:[100,500], xt:ticks400,
   s:[{n:"N489A", v:n489a, c:NAVY},{n:"S494P", v:s494p, c:OLIVE}]},
  {x:colL, y:rowTops[1], dom:[0.52,2.38], yt:[1.0,1.5,2.0], fmt:d3.format(".1f"), xr:[100,500],
   s:[{n:"K417A", v:k417a, c:NAVY},{n:"N439K", v:n439k, c:OLIVE}]},
  {x:colR, y:rowTops[1], dom:[0.41,3.07], yt:[1,2,3], fmt:d3.format("d"), xr:[100,500],
   s:[{n:"G446A", v:g446a, c:NAVY},{n:"G447A", v:g447a, c:OLIVE}]},
  {x:colL, y:rowTops[2], dom:[0.46,1.455], yt:[0.5,0.75,1.0,1.25], fmt:d3.format(".2f"), xr:[100,500],
   s:[{n:"Y453A", v:y453a, c:OLIVE},{n:"L455A", v:l455a, c:NAVY}]},
  {x:colR, y:rowTops[2], dom:[0.47,2.05], yt:[0.5,1.0,1.5,2.0], fmt:d3.format(".1f"), xr:[100,500],
   s:[{n:"F456A", v:f456a, c:OLIVE},{n:"Y473A", v:y473a, c:NAVY}]},
  {x:colL, y:rowTops[3], dom:[0.42,1.66], yt:[0.5,1.0,1.5], fmt:d3.format(".1f"), xr:[100,500],
   s:[{n:"A475V", v:a475v, c:OLIVE},{n:"G476A", v:g476a, c:NAVY}]},
  {x:colR, y:rowTops[3], dom:[0.457,1.755], yt:[0.5,1.0,1.5], fmt:d3.format(".1f"), xr:[100,500],
   s:[{n:"G476S", v:g476s, c:OLIVE},{n:"V483A", v:v483a, c:NAVY}]},
  {x:colL, y:rowTops[4], dom:[0.44,2.86], yt:[1,2], fmt:d3.format("d"), xr:[100,500],
   s:[{n:"V483F", v:v483f, c:NAVY},{n:"E484A", v:e484a, c:OLIVE}]},
  {x:colR, y:rowTops[4], dom:[0.42,2.84], yt:[1,2], fmt:d3.format("d"), xr:[100,500],
   s:[{n:"F486A", v:f486a, c:NAVY},{n:"N487A", v:n487a, c:OLIVE}]},
  {x:colL, y:rowTops[5], dom:[0.35,2.07], yt:[0.5,1.0,1.5,2.0], fmt:d3.format(".1f"), xr:[100,300],
   s:[{n:"Q493A", v:q493a, c:OLIVE},{n:"S494A", v:s494a, c:NAVY}]},
  {x:colR, y:rowTops[5], dom:[0.53,1.68], yt:[1.0,1.5], fmt:d3.format(".1f"), xr:[100,300],
   s:[{n:"G496A", v:g496a, c:NAVY},{n:"Q498A", v:q498a, c:OLIVE}]},
  {x:colL, y:rowTops[6], dom:[0.467,1.79], yt:[0.5,1.0,1.5], fmt:d3.format(".1f"), xr:[100,300], xt:ticks200,
   s:[{n:"T500A", v:t500a, c:NAVY},{n:"N501A", v:n501a, c:OLIVE}]},
  {x:colR, y:rowTops[6], dom:[0.47,1.88], yt:[0.5,1.0,1.5], fmt:d3.format(".1f"), xr:[100,300], xt:ticks200,
   s:[{n:"G502A", v:g502a, c:NAVY},{n:"Y505A", v:y505a, c:OLIVE}]},
];

panels.forEach((p, pi) => {
  const w = p.w || pw, h = p.h || ph;
  const big = !!p.big;
  const fs = big ? 14.5 : 11;
  const g = svg.append("g").attr("transform", `translate(${p.x},${p.y})`);
  const x = d3.scaleLinear().domain(p.xr).range([0, w]);
  const y = d3.scaleLinear().domain(p.dom).range([h, 0]);
  const clipId = "clip" + pi;
  g.append("clipPath").attr("id", clipId).append("rect").attr("width", w).attr("height", h);

  const lg = g.append("g").attr("clip-path", `url(#${clipId})`);
  p.s.forEach(s => {
    const n = s.v.length;
    const line = d3.line()
      .x((d, i) => x(p.xr[0] + (p.xr[1] - p.xr[0]) * i / (n - 1)))
      .y(d => y(d));
    lg.append("path").datum(s.v).attr("d", line)
      .attr("fill", "none").attr("stroke", s.c)
      .attr("stroke-width", big ? 2.2 : 1.1).attr("stroke-linejoin", "miter");
  });

  // y axis
  const ya = g.append("g").call(d3.axisLeft(y).tickValues(p.yt).tickFormat(p.fmt).tickSizeOuter(0).tickSize(big ? 4 : 3.5).tickPadding(big ? 5 : 3));
  ya.select(".domain").remove();
  ya.selectAll("line").attr("stroke", "#333");
  ya.selectAll("text").style("font-size", fs + "px").style("font-family", "DejaVu Sans").attr("fill", "#333");

  // x axis
  if (p.xt) {
    const xa = g.append("g").attr("transform", `translate(0,${h})`)
      .call(d3.axisBottom(x).tickValues(p.xt).tickFormat(d3.format("d")).tickSizeOuter(0).tickSize(big ? 4 : 3.5).tickPadding(big ? 8 : 6));
    xa.select(".domain").remove();
    xa.selectAll("line").attr("stroke", "#333");
    xa.selectAll("text").style("font-size", fs + "px").style("font-family", "DejaVu Sans").attr("fill", "#333");
  }

  // frame
  g.append("rect").attr("width", w).attr("height", h).attr("fill", "none")
    .attr("stroke", "#444").attr("stroke-width", 1);

  // legend
  const L = big ? {bx:7, by:6, bw:167, bh:49, r1:20, dy:21, l0:13, l1:46, tx:58}
                : {bx:5, by:6, bw:84, bh:38, r1:17, dy:18, l0:10, l1:36, tx:45};
  const leg = g.append("g");
  leg.append("rect").attr("x", L.bx).attr("y", L.by).attr("width", L.bw).attr("height", L.bh)
    .attr("rx", 3).attr("fill", "#fff").attr("fill-opacity", 0.8).attr("stroke", "#ccc").attr("stroke-width", 1);
  p.s.forEach((s, i) => {
    const yy = L.r1 + i * L.dy;
    leg.append("line").attr("x1", L.l0).attr("x2", L.l1).attr("y1", yy).attr("y2", yy)
      .attr("stroke", s.c).attr("stroke-width", big ? 2 : 1.3);
    leg.append("text").attr("x", L.tx).attr("y", yy).attr("dy", "0.35em")
      .style("font-size", fs + "px").text(s.n);
  });
});

// axis titles
function title(t, x, y, rot) {
  svg.append("text").attr("transform", `translate(${x},${y}) rotate(${rot})`)
    .attr("text-anchor", "middle").attr("dy", "0.35em")
    .style("font-size", "15px").style("font-weight", "bold").attr("fill", "#111").text(t);
}
title("RMSD [Å]", 20, 758, -90);
title("RMSD [Å]", 665, 745, -90);
title("time[ns]", 352, 1327, 0);
title("time[ns]", 997, 1327, 0);
</script>
</body></html>
